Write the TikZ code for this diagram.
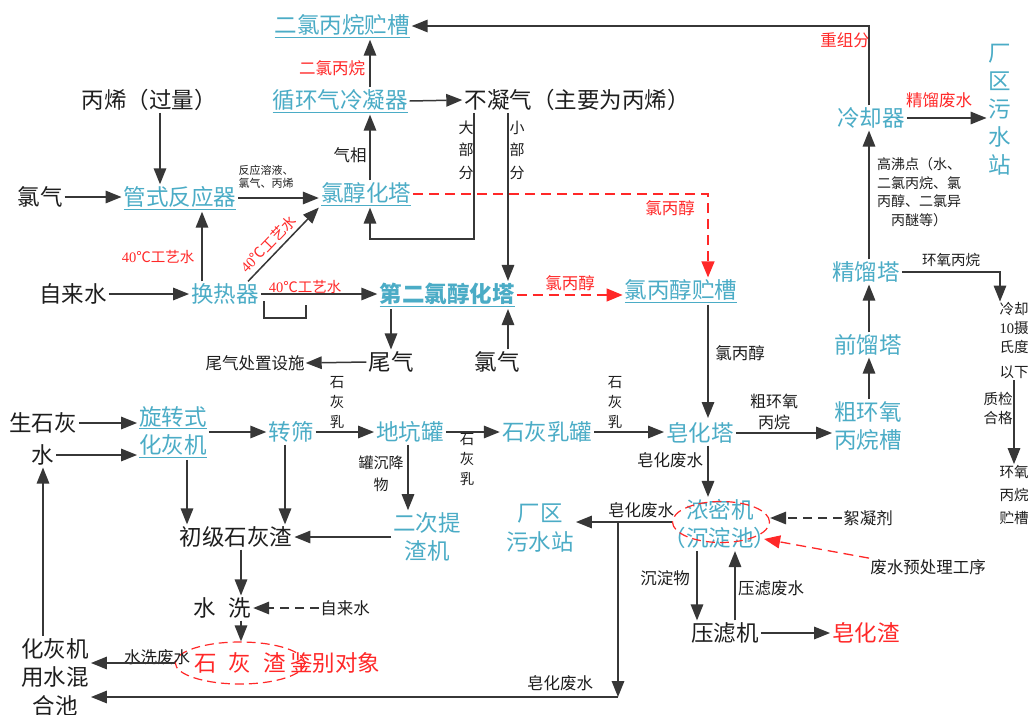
\documentclass[tikz,border=0pt]{standalone}
\usepackage{fontspec}
\setmainfont{Noto Sans CJK SC}
\newfontfamily\numfont{Liberation Serif}
\usepackage{xcolor}
\usepackage{tikz}
\usetikzlibrary{arrows.meta,positioning,shapes,calc}
\definecolor{unitblue}{RGB}{75,172,198}
\definecolor{warnred}{RGB}{255,40,40}
\definecolor{ink}{RGB}{30,30,30}
\definecolor{wire}{RGB}{55,55,55}

\begin{document}
\begin{tikzpicture}[x=1pt, y=-1pt,
  fbig/.style={font=\fontsize{22.5}{28.5}\selectfont},
  fmid/.style={font=\fontsize{16.5}{21}\selectfont},
  fsml/.style={font=\fontsize{14.5}{20}\selectfont},
  ftny/.style={font=\fontsize{11}{13}\selectfont},
  equip/.style={fbig, text=unitblue, inner sep=2pt, align=center},
  thing/.style={fbig, text=ink, inner sep=2pt, align=center},
  note/.style={fmid, text=ink, inner sep=1pt, align=center},
  rnote/.style={fmid, text=warnred, inner sep=1pt, align=center},
  flow/.style={draw=wire, line width=1.5pt, -{Triangle[length=16pt,width=12.5pt]}},
  dflow/.style={flow, dash pattern=on 9pt off 6pt},
  rflow/.style={draw=warnred, line width=1.3pt, dash pattern=on 10pt off 6pt, -{Triangle[length=16pt,width=13pt]}},
  ring/.style={draw=warnred, line width=1.2pt, dash pattern=on 9pt off 5pt, ellipse, inner sep=0pt}]
\fill[white] (0,0) rectangle (1034,715);
\useasboundingbox (0,0) rectangle (1034,715);

% Chlorohydrin section
\node[equip] (tank2) at (342,26) {\underline{二氯丙烷贮槽}};
\node[equip] (cond) at (340,101) {\underline{循环气冷凝器}};
\node[thing] (noncond) at (577,100) {不凝气（主要为丙烯）};
\node[thing] (propy) at (149,100) {丙烯（过量）};
\node[thing] (cl1) at (40,197) {氯气};
\node[equip] (tube) at (180,198) {\underline{管式反应器}};
\node[equip] (chlor1) at (366,194) {\underline{氯醇化塔}};
\node[thing] (tap1) at (73,294) {自来水};
\node[equip] (exch) at (225,294) {换热器};
\node[equip, font=\fontsize{22.5}{28.5}\selectfont\bfseries] (chlor2) at (447,295) {\underline{第二氯醇化塔}};
\node[equip] (cptank) at (681,291) {\underline{氯丙醇贮槽}};
\node[thing] (tail) at (391,362) {尾气};
\node[note] (tailfac) at (255,363) {尾气处置设施};
\node[thing] (cl2) at (497,362) {氯气};

\node[rnote] at (332,68) {二氯丙烷};
\node[note] at (350,155) {气相};
\node[note, font=\fontsize{15}{22.5}\selectfont] at (466,150) {大\\部\\分};
\node[note, font=\fontsize{15}{22.5}\selectfont] at (517,150) {小\\部\\分};
\node[note, ftny] at (266,177) {反应溶液、\\氯气、丙烯};
\node[rnote, fsml] at (158,257) {{\numfont 40}℃工艺水};
\node[rnote, fsml] at (305,287) {{\numfont 40}℃工艺水};
\node[rnote] at (670,208) {氯丙醇};
\node[rnote] at (570,283) {氯丙醇};
\node[note] at (740,353) {氯丙醇};

\draw[flow] ([xshift=30pt]cond.north) -- ([xshift=28pt]tank2.south);
\draw[flow] (cond.east) -- (noncond.west);
\draw[flow] ([xshift=11pt]propy.south) -- ([xshift=-20pt]tube.north);
\draw[flow] (cl1.east) -- (cl1.east -| tube.west);
\draw[flow] (tube.east) -- (tube.east -| chlor1.west);
\draw[flow] ([xshift=4pt]chlor1.north) -- ([xshift=30pt]cond.south);
\draw[flow] ([xshift=-103pt]noncond.south) -- ++(0,126) -| ([xshift=4pt]chlor1.south);
\draw[flow] ([xshift=-69pt]noncond.south) -- ([xshift=61pt]chlor2.north);
\draw[rflow] (chlor1.east) -| ([xshift=27pt]cptank.north);
\draw[flow] ([xshift=-23pt]exch.north) -- ([xshift=22pt]tube.south);
\draw[flow] ([xshift=23pt]exch.north) -- node[pos=0.4, sloped, above=3pt, rnote, fsml] {{\numfont 40}℃工艺水} (chlor1.south west);
\draw[flow] (tap1.east) -- (exch.west);
\draw[flow] (exch.east) -- (exch.east -| chlor2.west);
\draw[draw=wire, line width=1.2pt] (264,301) -- (264,318) -- (306,318) -- (306,305);
\draw[rflow] (chlor2.east) -- (chlor2.east -| cptank.west);
\draw[flow] ([xshift=27pt]cptank.south) -- (708,418);
\draw[flow] (chlor2.south -| tail.north) -- (tail.north);
\draw[flow] (tail.west) -- (tailfac.east);
\draw[flow] ([xshift=11pt]cl2.north) -- ([xshift=61pt]chlor2.south);

% Refining section
\node[equip] (cooler) at (871,118) {冷却器};
\node[equip, font=\fontsize{22.5}{28}\selectfont] (sew1) at (1000,110) {厂\\区\\污\\水\\站};
\node[equip] (rect) at (866,272) {精馏塔};
\node[equip] (pre) at (868,345) {前馏塔};
\node[equip] (crude) at (868,426) {粗环氧\\丙烷槽};
\node[note, font=\fontsize{14.5}{19}\selectfont] (coolnote) at (1014,341) {冷却\\{\numfont 10}摄\\氏度\\[6pt]以下};
\node[note, font=\fontsize{14.5}{23}\selectfont] (epotank) at (1014,495) {环氧\\丙烷\\贮槽};

\node[rnote] at (845,40) {重组分};
\node[rnote] at (939,100) {精馏废水};
\node[note, font=\fontsize{14}{18.5}\selectfont] at (919,192) {高沸点（水、\\二氯丙烷、氯\\丙醇、二氯异\\丙醚等）};
\node[note, fsml] at (951,260) {环氧丙烷};
\node[note, font=\fontsize{14.5}{19}\selectfont] at (998,408) {质检\\合格};

\draw[flow] ([xshift=-2pt]cooler.north) |- (tank2.east);
\draw[flow] (cooler.east) -- (cooler.east -| sew1.west);
\draw[flow] ([xshift=3pt]rect.north) -- ([xshift=-2pt]cooler.south);
\draw[flow] (rect.east) -| ([xshift=-14pt]coolnote.north);
\draw[flow] (coolnote.south) -- (epotank.north);
\draw[flow] ([xshift=1pt]pre.north) -- ([xshift=3pt]rect.south);
\draw[flow] ([xshift=1pt]crude.north) -- ([xshift=1pt]pre.south);

% Saponification and lime section
\node[equip] (sapon) at (700,433) {皂化塔};
\node[equip] (limetank) at (547,432) {石灰乳罐};
\node[equip] (pit) at (410,432) {地坑罐};
\node[equip] (sieve) at (291,432) {转筛};
\node[equip] (slaker) at (173,432) {\underline{旋转式}\\\underline{化灰机}};
\node[thing] (quick) at (43,423) {生石灰};
\node[thing] (water) at (43,455) {水};
\node[thing] (mixpool) at (55,677) {化灰机\\用水混\\合池};
\node[thing] (primary) at (236,537) {初级石灰渣};
\node[equip] (second) at (427,537) {二次提\\渣机};
\node[thing] (wash) at (222,608) {水\hspace{13pt}洗};
\node[note] (tap2) at (345,608) {自来水};
\node[thing, text=warnred, ring, minimum width=104pt, minimum height=42pt] (slag) at (240,663) {石\hspace{12pt}灰\hspace{12pt}渣};
\node[thing, text=warnred] (ident) at (335,663) {鉴别对象};

\node[note, font=\fontsize{16}{21}\selectfont] at (774,412) {粗环氧\\丙烷};
\node[note, fsml] at (337,403) {石\\灰\\乳};
\node[note, fsml] at (467,460) {石\\灰\\乳};
\node[note, fsml] at (615,403) {石\\灰\\乳};
\node[note, font=\fontsize{15}{22}\selectfont] at (381,474) {罐沉降\\物};
\node[note] at (157,657) {水洗废水};

\draw[flow] (sapon.east) -- (sapon.east -| crude.west);
\draw[flow] (limetank.east) -- (limetank.east -| sapon.west);
\draw[flow] (pit.east) -- (pit.east -| limetank.west);
\draw[flow] (sieve.east) -- (sieve.east -| pit.west);
\draw[flow] (slaker.east) -- (slaker.east -| sieve.west);
\draw[flow] (quick.east) -- (quick.east -| slaker.west);
\draw[flow] (water.east) -- (water.east -| slaker.west);
\draw[flow] (mixpool.north -| water.south) -- (water.south);
\draw[flow] ([xshift=14pt]slaker.south) -- ([xshift=14pt]slaker.south |- primary.north);
\draw[flow] ([xshift=-6pt]sieve.south) -- ([xshift=-6pt]sieve.south |- primary.north);
\draw[flow] ([xshift=-2pt]pit.south) -- ([xshift=-2pt]pit.south |- second.north);
\draw[flow] (second.west) -- (primary.east);
\draw[flow] ([xshift=5pt]primary.south) -- ([xshift=19pt]wash.north);
\draw[dflow] (tap2.west) -- (wash.east);
\draw[flow] ([xshift=19pt]wash.south) -- ([xshift=1pt]slag.north);
\draw[flow] (slag.west) -- (slag.west -| mixpool.east);

% Wastewater section
\node[equip] (thick) at (720,524) {浓密机\\（沉淀池）};
\node[ring, minimum width=97pt, minimum height=41pt] (thickring) at (721,522) {};
\node[equip] (sew2) at (540,528) {厂区\\污水站};
\node[thing] (press) at (725,633) {压滤机};
\node[thing, text=warnred] (sapslag) at (866,633) {皂化渣};
\node[note] (floc) at (868,518) {絮凝剂};
\node[note] (pretreat) at (928,567) {废水预处理工序};
\coordinate (j1) at (618,522);
\coordinate (j2) at (618,697);

\node[note] at (670,460) {皂化废水};
\node[note] at (641,510) {皂化废水};
\node[note] at (560,683) {皂化废水};
\node[note] at (665,578) {沉淀物};
\node[note] at (771,588) {压滤废水};

\draw[flow] ([xshift=8pt]sapon.south) -- ([xshift=8pt]sapon.south |- thick.north);
\draw[flow] (thickring.west) -- (thickring.west -| sew2.east);
\draw[flow] (j1) -- (j2);
\draw[flow] (j2) -- (j2 -| mixpool.east);
\draw[dflow] (floc.west) -- (floc.west -| thickring.east);
\draw[rflow] (pretreat.north west) -- ([shift={(-6pt,-17pt)}]thickring.east);
\draw[flow] ([xshift=-23pt]thick.south) -- ([xshift=-23pt]thick.south |- press.north);
\draw[flow] ([xshift=10pt]press.north) -- ([xshift=10pt]press.north |- thick.south);
\draw[flow] (press.east) -- (sapslag.west);

\end{tikzpicture}
\end{document}
